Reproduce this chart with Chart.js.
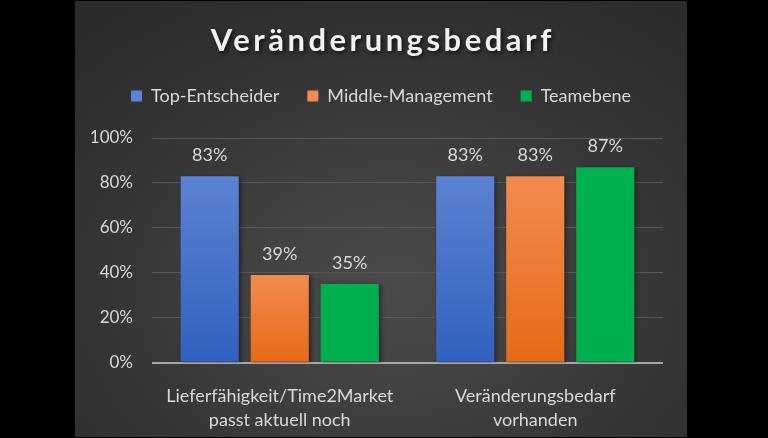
<!DOCTYPE html>
<html><head><meta charset="utf-8">
<script src="https://cdn.jsdelivr.net/npm/chart.js@4"></script>
<style>
html,body{margin:0;padding:0;background:#000;width:768px;height:438px;overflow:hidden}
#panel{position:absolute;left:75px;top:1px;width:612px;height:436px;
background:radial-gradient(ellipse 75% 80% at 52% 66%, #4a4a4a 0%, #424242 30%, #363636 60%, #2b2b2b 100%);}
canvas{display:block}
</style></head><body>
<div id="panel"><canvas id="c" width="612" height="436"></canvas></div>
<script>
const titleText = "Veränderungsbedarf";
const categories = [["Lieferfähigkeit/Time2Market", "passt aktuell noch"], ["Veränderungsbedarf", "vorhanden"]];
const seriesNames = ["Top-Entscheider", "Middle-Management", "Teamebene"];
const topEntscheider = [83, 83];
const middleManagement = [39, 83];
const teamebene = [35, 87];
const yTicks = [0, 20, 40, 60, 80, 100];

const TXT = '#d9d9d9';
const FONT = 'Lato';

function grad(top, bottom, solid) {
  return function (c) {
    const chart = c.chart;
    const ys = chart.scales && chart.scales.y;
    if (c.type !== 'data' || !ys || !chart.chartArea) return solid;
    const yT = ys.getPixelForValue(c.raw);
    const yB = ys.getPixelForValue(0);
    if (!isFinite(yT) || !isFinite(yB) || yT === yB) return solid;
    const g = chart.ctx.createLinearGradient(0, yT, 0, yB);
    g.addColorStop(0, top);
    g.addColorStop(1, bottom);
    return g;
  };
}

const fancyTitle = {
  id: 'fancyTitle',
  afterDraw(chart) {
    const tb = chart.titleBlock;
    const ctx = chart.ctx;
    const sp = 3.5;
    ctx.save();
    ctx.font = 'bold 31px ' + FONT;
    let spaced = false;
    try { ctx.letterSpacing = sp + 'px'; spaced = ctx.letterSpacing === sp + 'px'; } catch (e) {}
    ctx.textAlign = 'left';
    ctx.textBaseline = 'middle';
    const w = ctx.measureText(titleText).width - (spaced ? sp : 0);
    ctx.shadowColor = 'rgba(0,0,0,0.7)';
    ctx.shadowBlur = 4;
    ctx.shadowOffsetX = 2;
    ctx.shadowOffsetY = 2;
    ctx.fillStyle = '#f2f2f2';
    ctx.fillText(titleText, chart.width / 2 - w / 2, tb.bottom - 18);
    ctx.restore();
  }
};

const barDeco = {
  id: 'barDeco',
  beforeDatasetsDraw(chart) {
    const ctx = chart.ctx;
    ctx.save();
    ctx.shadowColor = 'rgba(0,0,0,0.45)';
    ctx.shadowBlur = 4;
    ctx.shadowOffsetX = 2;
    ctx.shadowOffsetY = 1;
  },
  afterDatasetsDraw(chart) {
    const ctx = chart.ctx;
    ctx.restore();
    ctx.save();
    ctx.font = '18px ' + FONT;
    ctx.fillStyle = TXT;
    ctx.textAlign = 'center';
    ctx.textBaseline = 'middle';
    chart.data.datasets.forEach((ds, di) => {
      const meta = chart.getDatasetMeta(di);
      meta.data.forEach((bar, i) => {
        ctx.fillText(ds.data[i] + '%', bar.x, bar.y - 21);
      });
    });
    ctx.restore();
  }
};

new Chart(document.getElementById('c'), {
  type: 'bar',
  data: {
    labels: categories,
    datasets: [
      { label: seriesNames[0], data: topEntscheider, backgroundColor: grad('#5c82d2', '#3161bf', '#4472c4') },
      { label: seriesNames[1], data: middleManagement, backgroundColor: grad('#f28b50', '#e56a16', '#ed7d31') },
      { label: seriesNames[2], data: teamebene, backgroundColor: grad('#00b14f', '#00ae4e', '#00b050') }
    ]
  },
  options: {
    responsive: false,
    animation: false,
    devicePixelRatio: 1,
    layout: { padding: { left: 0, right: 0, top: 0, bottom: 0 } },
    datasets: { bar: { categoryPercentage: 0.822, barPercentage: 0.83, borderWidth: 0 } },
    plugins: {
      title: { display: true, text: titleText, color: 'rgba(0,0,0,0)', font: { family: FONT, size: 30, weight: 'bold', lineHeight: 1.2 }, padding: { top: 22, bottom: 0 } },
      subtitle: { display: true, text: '', weight: 500, padding: 0, font: { size: 10, lineHeight: 2.3 } },
      legend: {
        display: true,
        labels: { color: TXT, font: { family: FONT, size: 18 }, boxWidth: 11, boxHeight: 11, padding: 28 }
      },
      tooltip: { enabled: false }
    },
    scales: {
      x: {
        grid: { display: false },
        border: { display: false },
        ticks: { color: TXT, font: { family: FONT, size: 18, lineHeight: '24px' }, padding: 13, maxRotation: 0 },
        afterFit(s) { s.height = 74.3; }
      },
      y: {
        min: 0, max: 100,
        afterBuildTicks(s) { s.ticks = yTicks.map(v => ({ value: v })); },
        ticks: { color: TXT, font: { family: FONT, size: 17 }, padding: 19, callback: v => v + '%' },
        grid: {
          drawTicks: false,
          color: c => (c.tick && c.tick.value === 0) ? '#a6a6a6' : '#585858',
          lineWidth: c => (c.tick && c.tick.value === 0) ? 2 : 1
        },
        border: { display: false },
        afterFit(s) { s.width = 77; }
      },
      yRightSpace: {
        type: 'linear',
        position: 'right',
        display: true,
        grid: { display: false, drawTicks: false },
        border: { display: false },
        ticks: { display: false },
        afterFit(s) { s.width = 24; }
      }
    }
  },
  plugins: [barDeco, fancyTitle]
});
</script>
</body></html>
